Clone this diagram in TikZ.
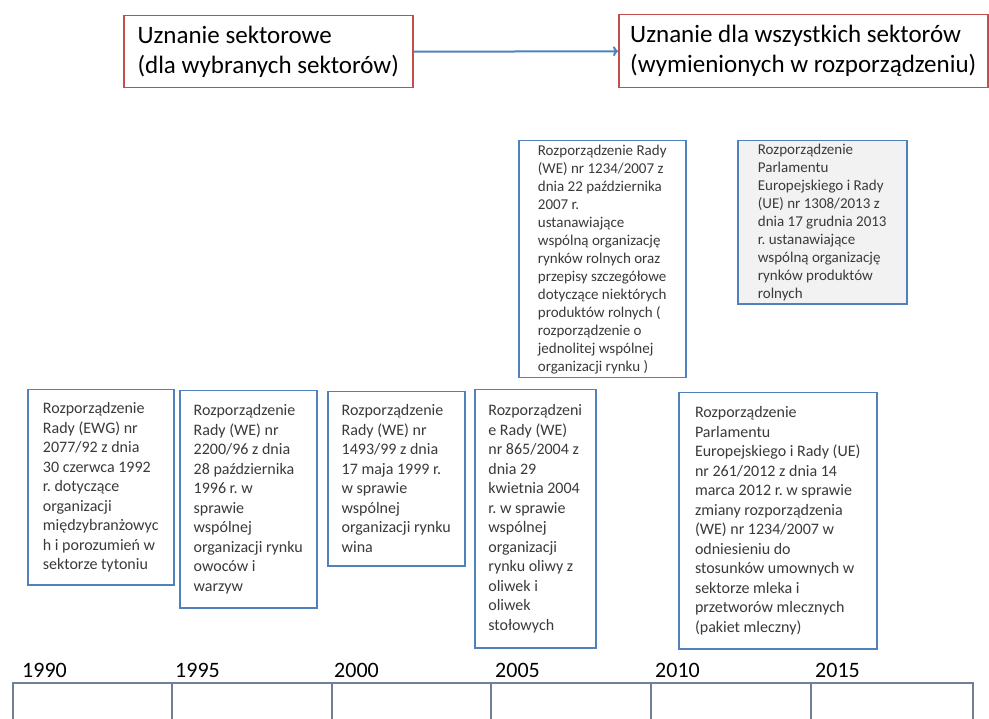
\documentclass[tikz,border=0pt]{standalone}
\usepackage{fontspec}
\setmainfont{Carlito}
\usetikzlibrary{arrows.meta}
\definecolor{ramka}{HTML}{C0504D}
\definecolor{niebieski}{HTML}{4F81BD}
\definecolor{os}{HTML}{6F7F99}
\definecolor{szary}{HTML}{F2F2F2}
\definecolor{tekst}{HTML}{3A3A3A}
\frenchspacing

\begin{document}
\begin{tikzpicture}[x=1pt, y=-1pt,
    etap/.style={draw=ramka, line width=1.5pt, fill=white, anchor=north west, align=left, inner xsep=11pt, font=\fontsize{25}{30}\selectfont},
    akt/.style={draw=niebieski, line width=1.5pt, fill=white, anchor=north west, align=left, inner xsep=9pt, text=tekst, font=\fontsize{16}{19.5}\selectfont},
    aktmaly/.style={akt, font=\fontsize{15}{18}\selectfont},
    rok/.style={anchor=base west, inner sep=0pt, font=\fontsize{22}{26}\selectfont}]
    \useasboundingbox (0,0) rectangle (989,719);

    \node[etap, minimum width=289, minimum height=72] (sektor) at (123,15) {Uznanie sektorowe\\(dla wybranych sektorów)};
    \node[etap, minimum width=369, minimum height=73] (wszystkie) at (618,14) {Uznanie dla wszystkich sektorów\\(wymienionych w rozporządzeniu)};
    \draw[niebieski, line width=2pt, -{To[length=5pt, width=10pt]}] (sektor.east) -- (wszystkie.west);

    \node[aktmaly, minimum width=167, minimum height=237] (r2007) at (518,140) {Rozporządzenie Rady\\(WE) nr 1234/2007 z\\dnia 22 października\\2007 r.\\ustanawiające\\wspólną organizację\\rynków rolnych oraz\\przepisy szczegółowe\\dotyczące niektórych\\produktów rolnych (\\rozporządzenie o\\jednolitej wspólnej\\organizacji rynku )};
    \node[aktmaly, fill=szary, minimum width=169, minimum height=157] (r2013) at (737,140) {Rozporządzenie\\Parlamentu\\Europejskiego i Rady\\(UE) nr 1308/2013 z\\dnia 17 grudnia 2013\\r. ustanawiające\\wspólną organizację\\rynków produktów\\rolnych};

    \node[akt, minimum width=146, minimum height=195] (r1992) at (27,389) {Rozporządzenie\\Rady (EWG) nr\\2077/92 z dnia\\30 czerwca 1992\\r. dotyczące\\organizacji\\międzybranżowyc\\h i porozumień w\\sektorze tytoniu};
    \node[akt, minimum width=137, minimum height=217] (r1996) at (179,390) {Rozporządzenie\\Rady (WE) nr\\2200/96 z dnia\\28 października\\1996 r. w\\sprawie\\wspólnej\\organizacji rynku\\owoców i\\warzyw};
    \node[akt, minimum width=137, minimum height=174] (r1999) at (327,391) {Rozporządzenie\\Rady (WE) nr\\1493/99 z dnia\\17 maja 1999 r.\\w sprawie\\wspólnej\\organizacji rynku\\wina};
    \node[akt, minimum width=121, minimum height=258] (r2004) at (474,389) {Rozporządzeni\\e Rady (WE)\\nr 865/2004 z\\dnia 29\\kwietnia 2004\\r. w sprawie\\wspólnej\\organizacji\\rynku oliwy z\\oliwek i\\oliwek\\stołowych};
    \node[akt, minimum width=198, minimum height=256] (r2012) at (678,392) {Rozporządzenie\\Parlamentu\\Europejskiego i Rady (UE)\\nr 261/2012 z dnia 14\\marca 2012 r. w sprawie\\zmiany rozporządzenia\\(WE) nr 1234/2007 w\\odniesieniu do\\stosunków umownych w\\sektorze mleka i\\przetworów mlecznych\\(pakiet mleczny)};

    \foreach \rk/\xx/\yt in {1990/22/13, 1995/175/172, 2000/334/332, 2005/495/491, 2010/655/651, 2015/815/811} {
        \node[rok] (y\rk) at (\xx,677) {\rk};
        \draw[os, line width=2pt] (\yt,683) -- (\yt,719);
    }
    \draw[os, line width=2pt] (13,719) -- (13,683) -- (973,683) -- (973,719);
\end{tikzpicture}
\end{document}
